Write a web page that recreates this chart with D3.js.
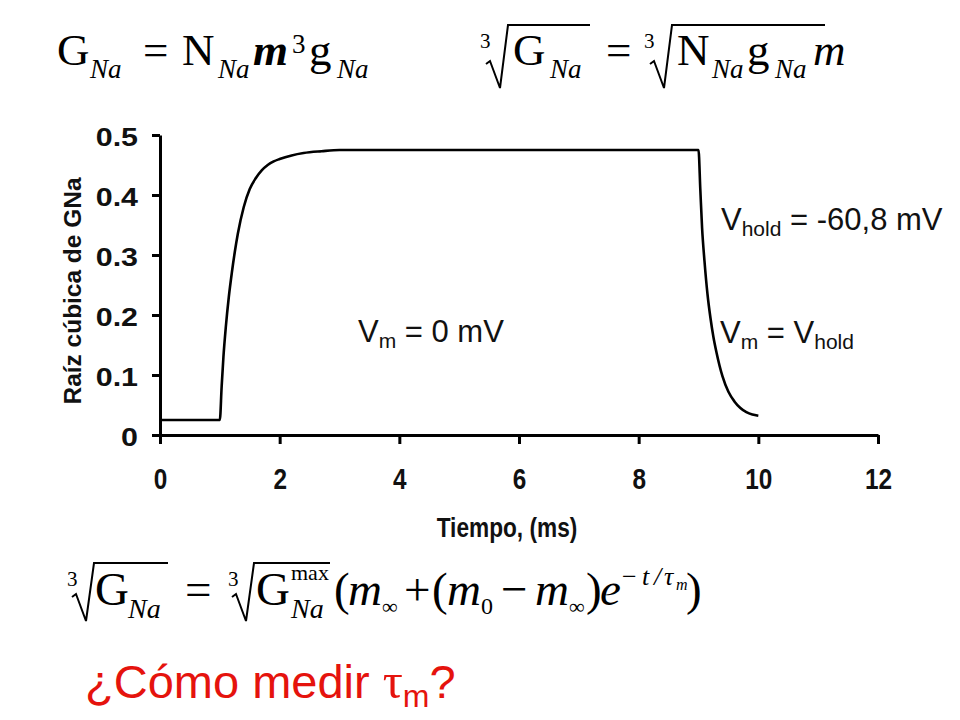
<!DOCTYPE html>
<html><head><meta charset="utf-8">
<script src="https://cdn.jsdelivr.net/npm/d3@7"></script>
<style>
html,body{margin:0;padding:0;background:#fff;}
svg{display:block;}
</style></head>
<body>
<svg id="chart" width="960" height="720"></svg>
<script>
// ---- data ----
const timeMs = [0, 1.0, 1.03, 1.06, 1.1, 1.15, 1.2, 1.25, 1.3, 1.4, 1.5, 1.6, 1.7, 1.8, 1.9, 2.0, 2.2, 2.4, 2.7, 3.0,
  9.0, 9.03, 9.06, 9.1, 9.15, 9.2, 9.25, 9.3, 9.4, 9.5, 9.6, 9.7, 9.8, 9.9, 10.0];
const cubeRootGNa = [0.025, 0.025, 0.08, 0.13, 0.18, 0.23, 0.27, 0.305, 0.335, 0.38, 0.41, 0.428, 0.441, 0.45, 0.456, 0.46, 0.466, 0.47, 0.473, 0.475,
  0.475, 0.41, 0.345, 0.29, 0.235, 0.195, 0.163, 0.138, 0.098, 0.072, 0.056, 0.045, 0.038, 0.034, 0.032];
const xTicks = [0, 2, 4, 6, 8, 10, 12];
const yTicks = [0, 0.1, 0.2, 0.3, 0.4, 0.5];
const xTitle = "Tiempo, (ms)";
const yTitle = "Raíz cúbica de GNa";

const svg = d3.select("#chart");
const x = d3.scaleLinear().domain([0, 12]).range([160, 878]);
const y = d3.scaleLinear().domain([0, 0.5]).range([435, 135]);

const SANS = "'Liberation Sans', Arial, sans-serif";
const SERIF = "'Liberation Serif', 'Times New Roman', serif";

// axes
const yAxis = d3.axisLeft(y).tickValues(yTicks).tickSize(8).tickSizeOuter(0).tickPadding(14)
  .tickFormat(d => d === 0 ? "0" : d3.format(".1f")(d));
const gy = svg.append("g").attr("transform", `translate(${x(0)},0)`).call(yAxis);
const xAxis = d3.axisBottom(x).tickValues(xTicks).tickSize(9).tickSizeOuter(0).tickPadding(24)
  .tickFormat(d3.format("d"));
const gx = svg.append("g").attr("transform", `translate(0,${y(0)})`).call(xAxis);

[gx, gy].forEach(g => {
  g.select(".domain").attr("stroke", "#000").attr("stroke-width", 3);
  g.selectAll(".tick line").attr("stroke", "#000").attr("stroke-width", 3);
});
const ySx = 1.17;
gy.selectAll(".tick text").attr("fill", "#111").style("font-family", SANS)
  .style("font-weight", "bold").style("font-size", "26px").attr("dy", "0.42em")
  .attr("x", -22 / ySx).attr("transform", `scale(${ySx},1)`);
const xSx = 0.84;
gx.selectAll(".tick text").attr("fill", "#111").style("font-family", SANS)
  .style("font-weight", "bold").style("font-size", "29px")
  .attr("transform", `scale(${xSx},1)`);

svg.append("text").attr("transform", "translate(507,537) scale(0.84,1)").attr("text-anchor", "middle")
  .style("font-family", SANS).style("font-weight", "bold").style("font-size", "27px")
  .attr("fill", "#111").text(xTitle);
svg.append("text").attr("transform", "translate(81,291) rotate(-90)").attr("text-anchor", "middle")
  .style("font-family", SANS).style("font-weight", "bold").style("font-size", "23px")
  .attr("textLength", 227).attr("lengthAdjust", "spacingAndGlyphs")
  .attr("fill", "#111").text(yTitle);

// curve
const pts = timeMs.map((t, i) => [t, cubeRootGNa[i]]);
svg.append("path").datum(pts)
  .attr("fill", "none").attr("stroke", "#000").attr("stroke-width", 2.6)
  .attr("stroke-linejoin", "round")
  .attr("d", d3.line().x(d => x(d[0])).y(d => y(d[1])).curve(d3.curveMonotoneX));

// annotation labels
function label(xp, yp, parts) {
  const t = svg.append("text").attr("x", xp).attr("y", yp)
    .style("font-family", SANS).attr("fill", "#111");
  parts.forEach(p => {
    t.append("tspan").text(p.s).style("font-size", (p.sub ? 21 : 31) + "px")
      .attr("dy", p.dy || 0);
  });
}
label(358, 342, [{s: "V"}, {s: "m", sub: true, dy: 6}, {s: " = 0 mV", dy: -6}]);
label(721, 230, [{s: "V"}, {s: "hold", sub: true, dy: 6}, {s: " = -60,8 mV", dy: -6}]);
label(720, 343, [{s: "V"}, {s: "m", sub: true, dy: 6}, {s: " = V", dy: -6}, {s: "hold", sub: true, dy: 6}]);

// math equations
function m(xp, yp, s, size, style) {
  style = style || {};
  return svg.append("text").attr("x", xp).attr("y", yp).text(s)
    .style("font-family", SERIF).style("font-size", size + "px")
    .style("font-style", style.italic ? "italic" : "normal")
    .style("font-weight", style.bold ? "bold" : "normal")
    .attr("fill", "#000");
}
function radical(xs, xe, top, bottom) {
  svg.append("path").attr("fill", "none").attr("stroke", "#000").attr("stroke-width", 2)
    .attr("stroke-linejoin", "miter")
    .attr("d", `M${xs},${bottom - 24} L${xs + 4},${bottom - 27} L${xs + 14},${bottom} L${xs + 22},${top} L${xe},${top}`);
}
// G_Na = N_Na m^3 g_Na
m(57, 65, "G", 45); m(90, 78, "Na", 27, {italic: true});
m(143, 65, "=", 45);
m(182, 65, "N", 45); m(218, 78, "Na", 27, {italic: true});
m(253, 65, "m", 45, {italic: true, bold: true}); m(292, 53, "3", 27);
m(309, 65, "g", 45); m(337, 78, "Na", 27, {italic: true});
// cube roots
m(480, 48, "3", 21);
radical(486, 590, 25, 88);
m(513, 65, "G", 45); m(550, 78, "Na", 27, {italic: true});
m(606, 65, "=", 45);
m(644, 48, "3", 21);
radical(650, 825, 25, 88);
m(677, 65, "N", 45); m(712, 78, "Na", 27, {italic: true});
m(747, 65, "g", 45); m(775, 78, "Na", 27, {italic: true});
m(813, 65, "m", 45, {italic: true});

// bottom equation
m(67, 586, "3", 21);
radical(72, 168, 563, 621);
m(95, 605, "G", 47); m(128, 618, "Na", 28, {italic: true});
m(185, 605, "=", 47);
m(228, 586, "3", 21);
radical(232, 330, 563, 621);
m(256, 605, "G", 47);
m(291, 580, "max", 22); m(291, 618, "Na", 28, {italic: true});
m(334, 605, "(", 47);
m(348, 605, "m", 47, {italic: true}); m(382, 614, "∞", 22);
m(404, 605, "+", 47);
m(432, 605, "(", 47);
m(447, 605, "m", 47, {italic: true}); m(481, 614, "0", 24);
m(501, 605, "−", 47);
m(535, 605, "m", 47, {italic: true}); m(569, 614, "∞", 22);
m(586, 605, ")", 47);
m(600, 605, "e", 47, {italic: true});
m(622, 585, "−", 26); m(642, 585, "t", 26, {italic: true}); m(654, 585, "/", 26, {italic: true});
m(664, 585, "τ", 26, {italic: true}); m(676, 590, "m", 16, {italic: true});
m(686, 605, ")", 47);

// red question
const q = svg.append("text").attr("x", 85).attr("y", 698).attr("fill", "#e5130d")
  .style("font-family", SANS).style("font-size", "47px");
q.append("tspan").text("¿Cómo medir ");
q.append("tspan").text("τ").style("font-family", SERIF).style("font-size", "50px");
q.append("tspan").text("m").style("font-size", "32px").attr("dy", 9);
q.append("tspan").text("?").attr("dy", -9);
</script>
</body></html>
